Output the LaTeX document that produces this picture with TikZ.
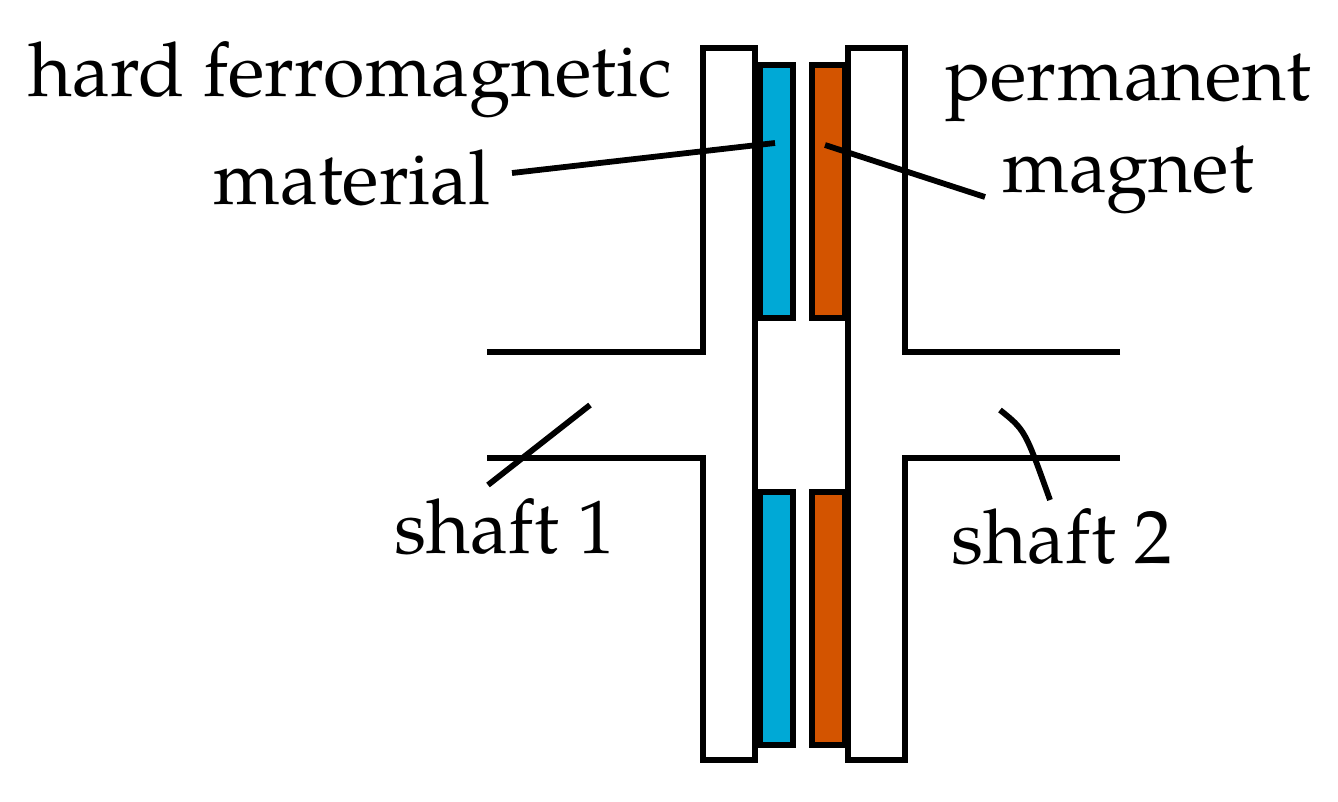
\documentclass[tikz,border=0pt]{standalone}
\usepackage{fontspec}
\setmainfont{TeX Gyre Pagella}
\begin{document}
\begin{tikzpicture}[x=0.02cm,y=-0.02cm,line width=3.3pt,
  lbl/.style={font=\fontsize{43}{47}\selectfont,inner sep=0pt,align=center}]
\useasboundingbox (0,0) rectangle (1338,801);
\definecolor{fblue}{HTML}{00A9D6}\definecolor{forange}{HTML}{D35400}
\draw (487,352)--(703,352)--(703,48)--(755,48)--(755,760)--(703,760)--(703,458)--(487,458);
\draw (1120,352)--(905,352)--(905,48)--(848,48)--(848,760)--(905,760)--(905,458)--(1120,458);
\draw[fill=fblue] (760,65) rectangle (793,318);
\draw[fill=fblue] (760,492) rectangle (793,745);
\draw[fill=forange] (812,65) rectangle (845,318);
\draw[fill=forange] (812,492) rectangle (845,745);
\node[lbl] (hf) at (350,80) {hard ferromagnetic};
\node[lbl] (mat) at (352,178) {material};
\node[lbl] (pm) at (1128,88) {permanent};
\node[lbl] (mag) at (1128,180) {magnet};
\node[lbl] (s1) at (505,527) {shaft 1};
\node[lbl] (s2) at (1062,537) {shaft 2};
\coordinate (a1) at (512,173); \coordinate (a2) at (775,143);
\coordinate (b1) at (825,145); \coordinate (b2) at (985,197);
\coordinate (c1) at (488,485); \coordinate (c2) at (590,405);
\coordinate (d1) at (1000,410); \coordinate (d2) at (1050,500);
\draw (a1)--(a2); \draw (b1)--(b2); \draw (c1)--(c2);
\draw (d1) .. controls (1025,430) .. (d2);
\end{tikzpicture}
\end{document}
